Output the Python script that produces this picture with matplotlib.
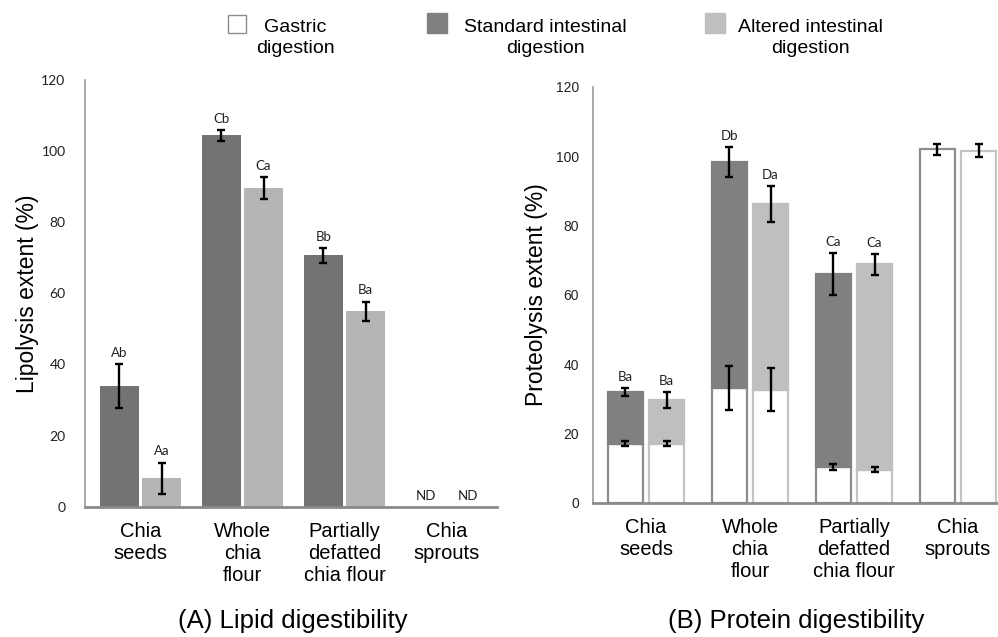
import matplotlib
matplotlib.use("Agg")
import matplotlib.pyplot as plt
from matplotlib.patches import Rectangle

# --------------------------------------------------
# Data
# --------------------------------------------------
categories = ["Chia\nseeds", "Whole\nchia\nflour", "Partially\ndefatted\nchia flour", "Chia\nsprouts"]

# (A) lipolysis extent (%)
lipid_std = [33.9, 104.4, 70.7, 0.0]
lipid_std_err = [6.2, 1.6, 2.1, 0.0]
lipid_alt = [8.0, 89.6, 54.9, 0.0]
lipid_alt_err = [4.4, 3.2, 2.8, 0.0]
lipid_std_letters = ["Ab", "Cb", "Bb", "ND"]
lipid_alt_letters = ["Aa", "Ca", "Ba", "ND"]

# (B) proteolysis extent (%) - gastric part and total after intestinal step
gastric_std = [17.1, 33.1, 10.3, 101.9]
gastric_std_err = [0.8, 6.4, 0.8, 1.7]
gastric_alt = [17.1, 32.6, 9.6, 101.5]
gastric_alt_err = [0.8, 6.2, 0.7, 1.9]
total_std = [32.0, 98.2, 66.0]
total_std_err = [1.1, 4.3, 6.1]
total_alt = [29.8, 86.2, 68.8]
total_alt_err = [2.3, 5.2, 3.0]
protein_std_letters = ["Ba", "Db", "Ca"]
protein_alt_letters = ["Ba", "Da", "Ca"]

# --------------------------------------------------
# Style
# --------------------------------------------------
W, H = 998, 637
ARIAL = ["Liberation Sans", "DejaVu Sans"]
CALIBRI = ["Lato", "DejaVu Sans"]
AXIS_GREY = "#8a8a8a"


def px_axes(fig, x0, y_top, x1, y_bottom):
    return fig.add_axes([x0 / W, 1 - y_bottom / H, (x1 - x0) / W, (y_bottom - y_top) / H])


def style_axes(ax, tick_font, tick_size, tick_pad):
    for side in ("top", "right"):
        ax.spines[side].set_visible(False)
    ax.spines["left"].set_color("#9a9a9a")
    ax.spines["left"].set_linewidth(1.2)
    ax.spines["bottom"].set_color(AXIS_GREY)
    ax.spines["bottom"].set_linewidth(2)
    ax.set_ylim(0, 120)
    ax.set_yticks(range(0, 121, 20))
    ax.tick_params(axis="both", length=0)
    ax.tick_params(axis="y", pad=tick_pad)
    for lab in ax.get_yticklabels():
        lab.set_family(tick_font)
        lab.set_fontsize(tick_size)
        lab.set_color("#222222")
    ax.set_xticks(range(len(categories)))
    ax.set_xticklabels(categories, family=ARIAL, fontsize=14.5,
                       linespacing=1.2, va="top")
    ax.tick_params(axis="x", pad=11)


def letter(ax, x, y, s):
    ax.annotate(s, (x, y), xytext=(0, 8), textcoords="offset points",
                ha="center", va="center", family=CALIBRI, fontsize=9.5,
                color="#222222")


fig = plt.figure(figsize=(W / 100, H / 100), dpi=100)
err_kw = dict(fmt="none", ecolor="black", elinewidth=1.7, capsize=3, capthick=1.7)

# --------------------------------------------------
# (A) Lipid digestibility
# --------------------------------------------------
axA = px_axes(fig, 85, 80, 497, 506.7)
xs = range(len(categories))
wA, offA = 0.373, 0.206
x_std = [x - offA for x in xs]
x_alt = [x + offA for x in xs]
axA.bar(x_std, lipid_std, width=wA, color="#737373")
axA.bar(x_alt, lipid_alt, width=wA, color="#b5b5b5")
axA.errorbar(x_std[:3], lipid_std[:3], yerr=lipid_std_err[:3], **err_kw)
axA.errorbar(x_alt[:3], lipid_alt[:3], yerr=lipid_alt_err[:3], **err_kw)
for i in range(len(categories)):
    letter(axA, x_std[i], lipid_std[i] + lipid_std_err[i], lipid_std_letters[i])
    letter(axA, x_alt[i], lipid_alt[i] + lipid_alt_err[i], lipid_alt_letters[i])
axA.set_xlim(-0.544, 3.495)
style_axes(axA, CALIBRI, 10, 14)
axA.set_ylabel("Lipolysis extent (%)", family=ARIAL, fontsize=16.5, labelpad=2)

# --------------------------------------------------
# (B) Protein digestibility
# --------------------------------------------------
axB = px_axes(fig, 593, 86.7, 997, 503)
wB, offB = 0.337, 0.198
xb_std = [x - offB for x in xs]
xb_alt = [x + offB for x in xs]
axB.bar(xb_std, gastric_std, width=wB, color="white", edgecolor="#8c8c8c", linewidth=1.6)
axB.bar(xb_alt, gastric_alt, width=wB, color="white", edgecolor="#c4c4c4", linewidth=1.6)
n = len(total_std)
inc_std = [t - g for t, g in zip(total_std, gastric_std)]
inc_alt = [t - g for t, g in zip(total_alt, gastric_alt)]
axB.bar(xb_std[:n], inc_std, bottom=gastric_std[:n], width=wB, color="#808080",
        edgecolor="#808080", linewidth=1.6)
axB.bar(xb_alt[:n], inc_alt, bottom=gastric_alt[:n], width=wB, color="#bfbfbf",
        edgecolor="#bfbfbf", linewidth=1.6)
axB.errorbar(xb_std, gastric_std, yerr=gastric_std_err, **err_kw)
axB.errorbar(xb_alt, gastric_alt, yerr=gastric_alt_err, **err_kw)
axB.errorbar(xb_std[:n], total_std, yerr=total_std_err, **err_kw)
axB.errorbar(xb_alt[:n], total_alt, yerr=total_alt_err, **err_kw)
for i in range(n):
    letter(axB, xb_std[i], total_std[i] + total_std_err[i], protein_std_letters[i])
    letter(axB, xb_alt[i], total_alt[i] + total_alt_err[i], protein_alt_letters[i])
axB.set_xlim(-0.51, 3.375)
style_axes(axB, ARIAL, 10, 10)
axB.set_ylabel("Proteolysis extent (%)", family=ARIAL, fontsize=16.5, labelpad=5.5)

# --------------------------------------------------
# Captions
# --------------------------------------------------
fig.text(293 / W, 1 - 628 / H, "(A) Lipid digestibility", family=ARIAL,
         fontsize=18.5, ha="center", va="baseline")
fig.text(796 / W, 1 - 628 / H, "(B) Protein digestibility", family=ARIAL,
         fontsize=18.5, ha="center", va="baseline")

# --------------------------------------------------
# Legend (drawn by hand to get the centred two-line labels)
# --------------------------------------------------
legend_items = [
    (228, 15, 18, "white", "#8c8c8c", 295, "Gastric\ndigestion"),
    (427, 13, 20, "#808080", "#808080", 545, "Standard intestinal\ndigestion"),
    (705, 13, 20, "#bfbfbf", "#bfbfbf", 810, "Altered intestinal\ndigestion"),
]
for x0, y0, size, face, edge, tx, label in legend_items:
    fig.add_artist(Rectangle((x0 / W, 1 - (y0 + size) / H), size / W, size / H,
                             transform=fig.transFigure, facecolor=face,
                             edgecolor=edge, linewidth=1))
    fig.text(tx / W, 1 - 38 / H, label, family=ARIAL, fontsize=14,
             ha="center", va="center", multialignment="center", linespacing=1.25)

fig.savefig("out.png", dpi=100)
plt.close(fig)
